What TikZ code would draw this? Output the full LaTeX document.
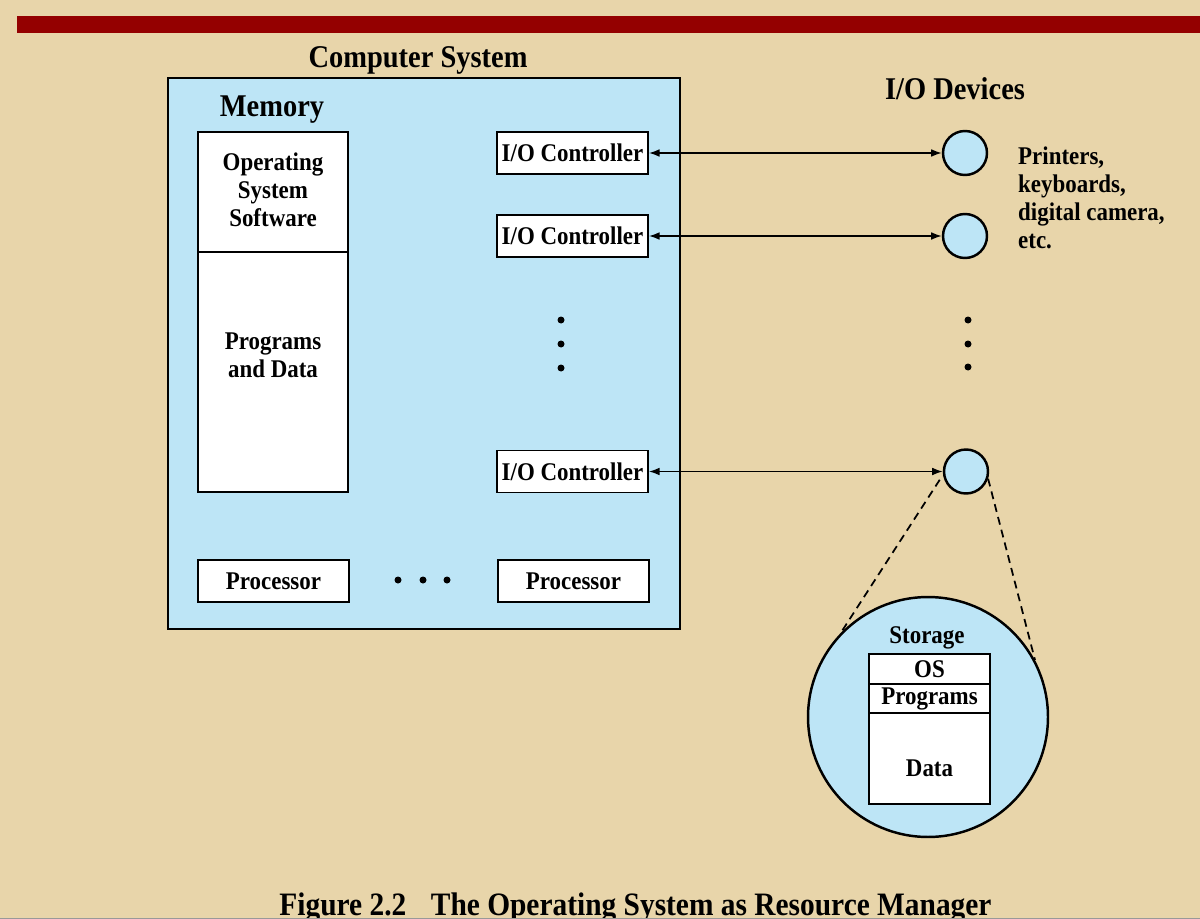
\documentclass[tikz,border=0pt]{standalone}
\usepackage{fontspec}
\setmainfont{Liberation Serif}[FakeStretch=0.9]
\usetikzlibrary{arrows.meta}

\definecolor{parchment}{RGB}{232,213,170}
\definecolor{skyfill}{RGB}{189,229,246}
\definecolor{barred}{RGB}{148,0,0}

\tikzset{
  headline/.style={font=\fontsize{18}{21}\selectfont\bfseries},
  bodytext/.style={font=\fontsize{14.5}{15.9}\selectfont\bfseries},
  whitebox/.style={draw, line width=1.1pt, fill=white, inner sep=0pt, bodytext},
  stackrow/.style={whitebox, line width=1.4pt, minimum width=2.42cm},
  device/.style={circle, draw, line width=1.4pt, fill=skyfill, minimum size=0.88cm, inner sep=0pt},
  iolink/.style={{Latex[length=6pt,width=4.4pt]}-{Latex[length=6pt,width=4.4pt]}, line width=0.85pt},
  blob/.style={circle, fill=black, inner sep=0pt, minimum size=0.14cm},
  zoomline/.style={dash pattern=on 4.5pt off 3pt, line width=1pt},
}

\begin{document}
\begin{tikzpicture}[x=0.02cm, y=-0.02cm]
  \useasboundingbox (0,0) rectangle (1200,919);
  \clip (0,0) rectangle (1200,919);

  % page background and header bar
  \fill[parchment] (0,0) rectangle (1200,919);
  \fill[barred] (17,16) rectangle (1200,33);

  % computer system frame
  \node[draw, line width=1.6pt, fill=skyfill, minimum width=10.24cm,
        minimum height=11.02cm, inner sep=0pt] (sys) at (424,353.5) {};
  \node[headline, anchor=base] (systitle) at (418,68) {Computer System};
  \node[headline, anchor=base] (memtitle) at (272,116) {Memory};
  \node[headline, anchor=base] (devtitle) at (955,100) {I/O Devices};

  % main memory
  \node[whitebox, minimum width=3cm, minimum height=2.4cm] (osmem) at (273,192) {};
  \node[bodytext, align=center] (ostext) at (273,190) {Operating\\System\\Software};
  \node[whitebox, minimum width=3cm, minimum height=4.8cm] (progmem) at (273,372) {};
  \node[bodytext, align=center] (progtext) at (273,355) {Programs\\and Data};

  % I/O controllers
  \node[whitebox, minimum width=3.02cm, minimum height=0.84cm] (ctrlA) at (572.5,153) {I/O Controller};
  \node[whitebox, minimum width=3.02cm, minimum height=0.84cm] (ctrlB) at (572.5,236) {I/O Controller};
  \node[whitebox, minimum width=3.02cm, minimum height=0.84cm] (ctrlC) at (572.5,471.5) {I/O Controller};
  \node[blob] (cdotA) at (561,320) {};
  \node[blob] (cdotB) at (561,344) {};
  \node[blob] (cdotC) at (561,368) {};

  % processors
  \node[whitebox, minimum width=3.02cm, minimum height=0.84cm] (cpuA) at (273.5,581) {Processor};
  \node[whitebox, minimum width=3.02cm, minimum height=0.84cm] (cpuB) at (573.5,581) {Processor};
  \node[blob] (pdotA) at (398,580) {};
  \node[blob] (pdotB) at (423,580) {};
  \node[blob] (pdotC) at (447,580) {};

  % I/O devices
  \node[device] (devA) at (965,153) {};
  \node[device] (devB) at (965,236) {};
  \node[device] (devC) at (966,471.5) {};
  \node[blob] (ddotA) at (968,320) {};
  \node[blob] (ddotB) at (968,344) {};
  \node[blob] (ddotC) at (968,367) {};
  \node[bodytext, align=left, anchor=west] (devnote) at (1012,198)
       {Printers,\\keyboards,\\digital camera,\\etc.};

  \draw[iolink] (ctrlA.east) -- (devA.west);
  \draw[iolink] (ctrlB.east) -- (devB.west);
  \draw[iolink] (ctrlC.east) -- (devC.west);

  % storage device, enlarged
  \node[circle, draw, line width=1.4pt, fill=skyfill, minimum size=4.8cm,
        inner sep=0pt] (store) at (928,717) {};
  \node[bodytext] (storetitle) at (927,638) {Storage};
  \node[stackrow, minimum height=0.6cm] (osrow) at (929.5,669) {OS};
  \node[stackrow, minimum height=0.58cm] (progrow) at (929.5,698.5) {Programs};
  \node[stackrow, minimum height=1.82cm] (datarow) at (929.5,758.5) {};
  \node[bodytext] (datatext) at (929.5,768) {Data};

  \draw[zoomline, shorten <=0.12cm] (devC.188) -- (store.136);
  \draw[zoomline] (devC.342) -- (store.28);

  % caption
  \node[font=\fontsize{18.6}{22}\selectfont\bfseries, anchor=base] (caption) at (635.5,915)
       {Figure 2.2\hspace*{0.75em}The Operating System as Resource Manager};
  \fill[black!40] (0,917.6) rectangle (1200,919);
\end{tikzpicture}
\end{document}
